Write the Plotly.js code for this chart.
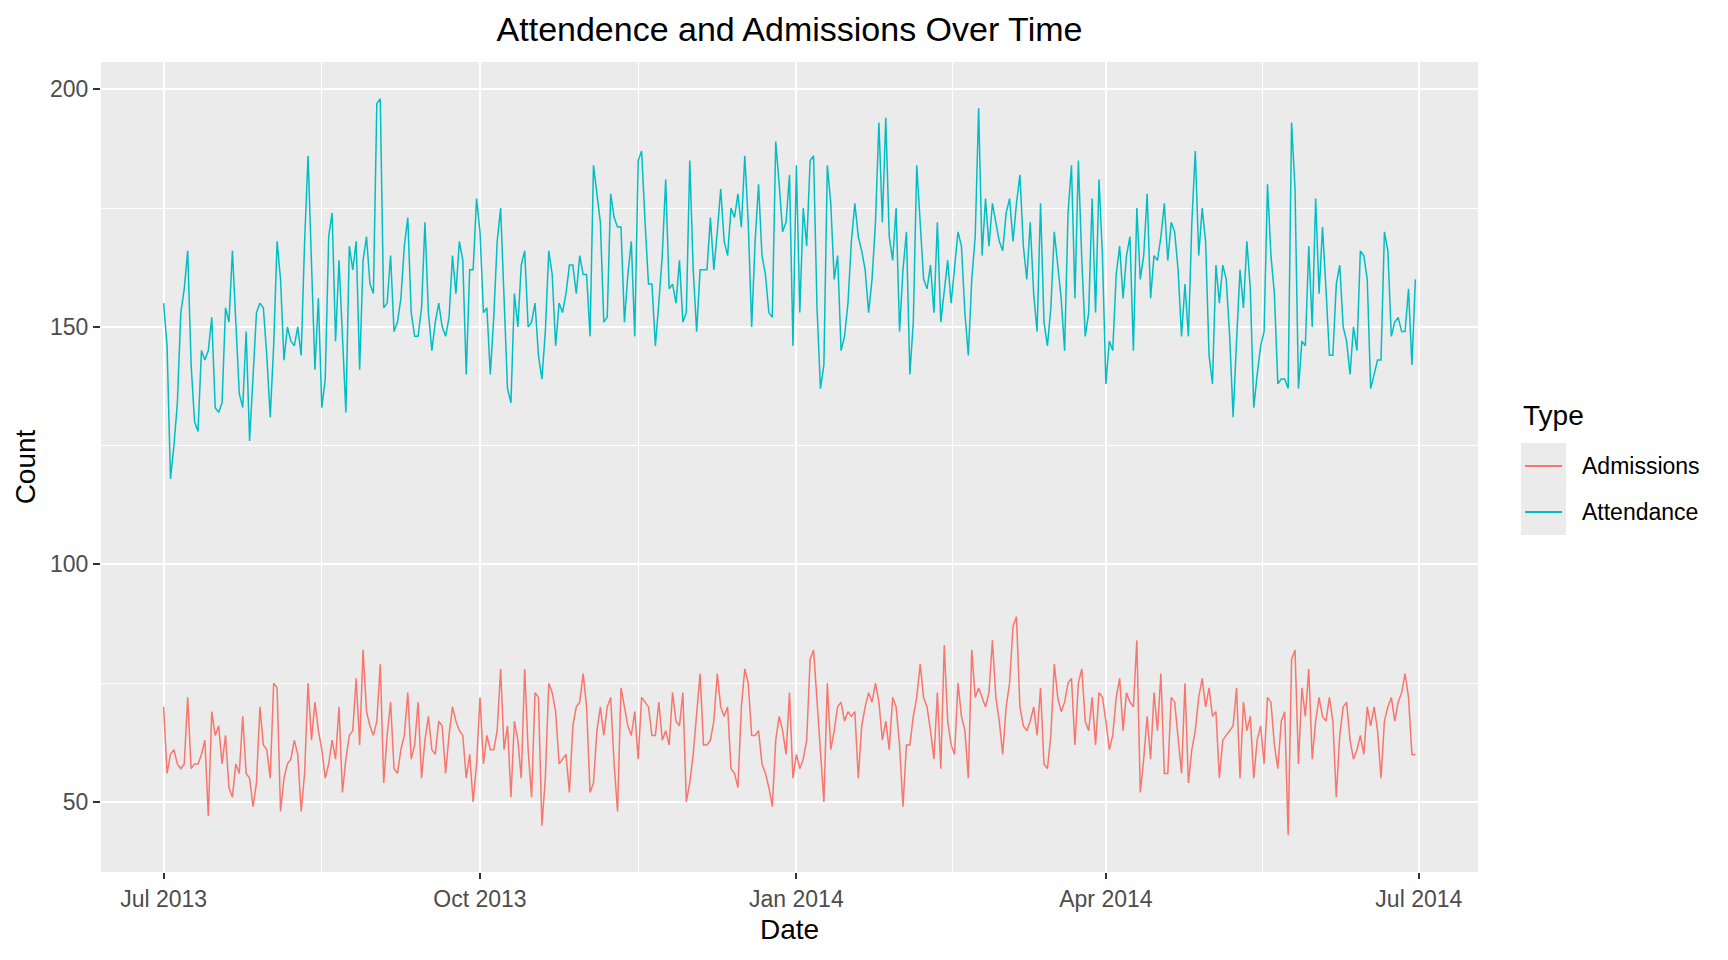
<!DOCTYPE html>
<html>
<head>
<meta charset="utf-8">
<script src="https://cdn.plot.ly/plotly-3.0.1.min.js"></script>
<style>
  html, body { margin: 0; padding: 0; background: #ffffff; }
  #chart { width: 1728px; height: 960px; }
</style>
</head>
<body>
<div id="chart"></div>
<script>
// ---- data (daily, 1 Jul 2013 .. 30 Jun 2014) ----
const startDate = "2013-07-01";
const dayCount = 365;

const attendance = [
155,146,118,125,134,153,158,166,142,130,
128,145,143,145,152,133,132,134,154,151,
166,151,136,133,149,126,141,153,155,154,
144,131,146,168,160,143,150,147,146,150,
144,168,186,162,141,156,133,139,169,174,
147,164,147,132,167,162,168,141,164,169,
159,157,197,198,154,155,165,149,151,156,
167,173,153,148,148,154,172,153,145,151,
155,150,148,152,165,157,168,164,140,162,
162,177,170,153,154,140,152,168,175,154,
137,134,157,150,163,166,150,151,155,144,
139,149,166,161,146,155,153,157,163,163,
157,165,161,161,148,184,178,172,151,152,
178,173,171,171,151,161,168,148,185,187,
172,159,159,146,155,165,181,158,159,155,
164,151,153,185,162,149,162,162,162,173,
162,170,179,168,165,175,173,178,171,186,
172,150,168,180,165,161,153,152,189,180,
170,172,182,146,184,153,175,167,185,186,
154,137,142,184,176,160,165,145,148,155,
168,176,169,166,162,153,160,172,193,172,
194,169,164,175,149,162,170,140,151,184,
172,160,158,163,153,172,151,158,164,155,
163,170,167,153,144,160,169,196,165,177,
167,176,172,168,166,174,177,168,176,182,
167,160,172,157,149,176,151,146,154,170,
163,156,145,174,184,156,185,164,148,153,
177,153,181,165,138,147,145,161,167,156,
165,169,145,175,160,165,178,156,165,164,
169,176,164,172,170,162,148,159,148,172,
187,165,175,168,144,138,163,155,163,160,
148,131,147,162,154,168,158,133,140,146,
149,180,165,157,138,139,139,137,193,179,
137,147,146,167,150,177,157,171,158,144,
144,159,163,150,147,140,150,145,166,165,
160,137,140,143,143,170,166,148,151,152,
149,149,158,142,160
];

const admissions = [
70,56,60,61,58,57,58,72,57,58,
58,60,63,47,69,64,66,58,64,53,
51,58,56,68,56,55,49,54,70,62,
61,55,75,74,48,55,58,59,63,60,
48,56,75,63,71,65,61,55,58,63,
59,70,52,59,64,65,76,62,82,69,
66,64,67,79,54,64,71,57,56,61,
64,73,59,62,71,55,63,68,61,60,
67,66,56,64,70,67,65,64,55,60,
50,58,72,58,64,61,61,65,78,61,
66,51,67,63,55,78,61,51,73,72,
45,55,75,73,69,58,59,60,52,66,
70,71,77,70,52,54,65,70,64,70,
72,58,48,74,70,66,64,69,59,72,
71,70,64,64,71,63,65,62,73,67,
66,73,50,54,60,68,77,62,62,63,
67,77,70,68,70,57,56,53,70,78,
75,64,64,65,58,56,53,49,63,68,
65,60,73,55,60,57,59,63,80,82,
72,62,50,75,61,65,70,71,67,69,
68,69,55,66,70,73,71,75,71,63,
67,61,72,70,62,49,62,62,68,72,
79,72,70,65,59,73,57,83,67,62,
60,75,68,65,55,82,72,74,72,70,
73,84,72,67,60,70,75,87,89,70,
66,65,67,70,64,74,58,57,64,79,
72,69,71,75,76,62,75,78,67,65,
72,62,73,72,67,61,64,72,76,65,
73,71,70,84,52,59,68,59,73,65,
77,56,56,72,71,64,56,75,54,61,
65,72,76,70,74,68,69,55,63,64,
65,66,74,55,71,65,68,55,63,66,
58,72,71,62,57,67,69,43,80,82,
58,74,68,78,59,67,72,68,67,72,
67,51,64,70,71,63,59,61,64,60,
70,66,70,65,55,67,70,72,67,71,
73,77,72,60,60
];

const seriesNames = ["Admissions", "Attendance"];
const xTickVals = ["2013-07-01", "2013-10-01", "2014-01-01", "2014-04-01", "2014-07-01"];
const xTickText = ["Jul 2013", "Oct 2013", "Jan 2014", "Apr 2014", "Jul 2014"];
const xMinorVals = ["2013-08-16", "2013-11-16", "2014-02-15 12:00", "2014-05-16 12:00"];
const yTickVals = [50, 100, 150, 200];
const yMinorVals = [75, 125, 175];

// ---- build date categories ----
const dates = [];
const t0 = Date.parse(startDate + "T00:00:00Z");
for (let i = 0; i < dayCount; i++) {
  dates.push(new Date(t0 + i * 86400000).toISOString().slice(0, 10));
}

const colors = ["#F8766D", "#00BFC4"];
const FONT = "Liberation Sans, Arial, Helvetica, sans-serif";

const traces = [
  { x: dates, y: admissions, type: "scatter", mode: "lines", name: seriesNames[0],
    line: { color: colors[0], width: 1.5 }, showlegend: false, hoverinfo: "x+y" },
  { x: dates, y: attendance, type: "scatter", mode: "lines", name: seriesNames[1],
    line: { color: colors[1], width: 1.5 }, showlegend: false, hoverinfo: "x+y" }
];

// panel in px: left 101, right 1478, top 62, bottom 872
const L = 101, R = 1478, T = 62, B = 872;
const px = v => (v - L) / (R - L);
const py = v => (B - v) / (B - T);

const shapes = [];
const annotations = [];
// ggplot style legend
annotations.push({ xref: "paper", yref: "paper", x: px(1521), y: py(416), xanchor: "left", yanchor: "middle",
  text: "Type", showarrow: false, font: { family: FONT, size: 28, color: "#000000" } });
const keyTop = [443, 489];
for (let k = 0; k < 2; k++) {
  shapes.push({ type: "rect", xref: "paper", yref: "paper", x0: px(1521), x1: px(1566),
    y0: py(keyTop[k] + 46), y1: py(keyTop[k]), fillcolor: "#EBEBEB", line: { width: 0 } });
  shapes.push({ type: "line", xref: "paper", yref: "paper", x0: px(1525), x1: px(1562),
    y0: py(keyTop[k] + 23), y1: py(keyTop[k] + 23), line: { color: colors[k], width: 1.8 } });
  annotations.push({ xref: "paper", yref: "paper", x: px(1580), y: py(keyTop[k] + 23),
    xanchor: "left", yanchor: "middle", text: seriesNames[k], showarrow: false,
    font: { family: FONT, size: 23, color: "#000000" } });
}

const layout = {
  width: 1728, height: 960,
  margin: { l: L, r: 1728 - R, t: T, b: 960 - B, pad: 0 },
  paper_bgcolor: "#FFFFFF",
  plot_bgcolor: "#EBEBEB",
  font: { family: FONT, color: "#000000" },
  title: { text: "Attendence and Admissions Over Time", font: { family: FONT, size: 34, color: "#000000" },
    x: 0.5, xref: "paper", xanchor: "center", y: 1 - 29 / 960, yref: "container", yanchor: "middle" },
  showlegend: false,
  xaxis: {
    type: "date",
    range: ["2013-06-12 19:00", "2014-07-18 05:00"],
    tickmode: "array", tickvals: xTickVals, ticktext: xTickText,
    ticks: "outside", ticklen: 6, tickwidth: 2, tickcolor: "#333333",
    tickfont: { family: FONT, size: 23, color: "#4D4D4D" },
    showgrid: true, gridcolor: "#FFFFFF", gridwidth: 2,
    minor: { tickmode: "array", tickvals: xMinorVals, showgrid: true, gridcolor: "#FFFFFF", gridwidth: 1, ticks: "" },
    zeroline: false, showline: false,
    title: { text: "Date", font: { family: FONT, size: 28, color: "#000000" }, standoff: 8 },
    automargin: false
  },
  yaxis: {
    range: [35.25, 205.75],
    tickmode: "array", tickvals: yTickVals,
    ticks: "outside", ticklen: 7, tickwidth: 2, tickcolor: "#333333",
    tickfont: { family: FONT, size: 23, color: "#4D4D4D" },
    showgrid: true, gridcolor: "#FFFFFF", gridwidth: 2,
    minor: { tickmode: "array", tickvals: yMinorVals, showgrid: true, gridcolor: "#FFFFFF", gridwidth: 1, ticks: "" },
    zeroline: false, showline: false,
    title: { text: "Count", font: { family: FONT, size: 28, color: "#000000" }, standoff: 6 },
    automargin: false
  },
  shapes: shapes,
  annotations: annotations
};

Plotly.newPlot("chart", traces, layout, { displayModeBar: false, staticPlot: true });
</script>
</body>
</html>
